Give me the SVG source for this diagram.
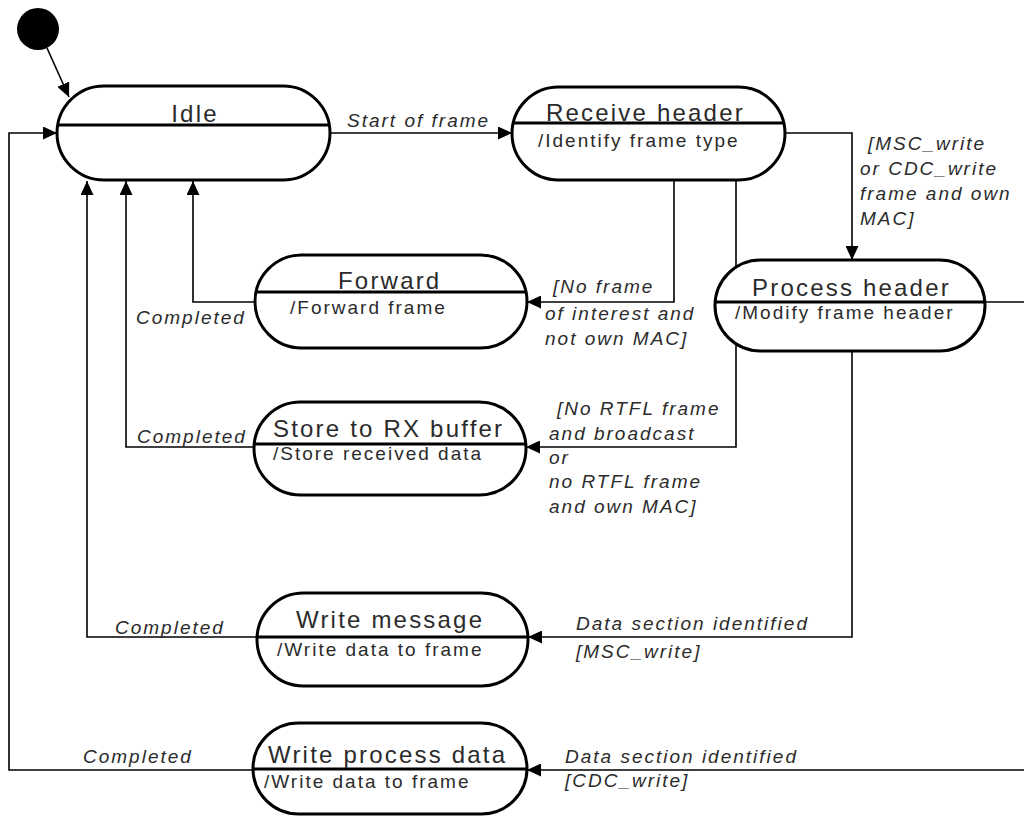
<svg xmlns="http://www.w3.org/2000/svg" width="1024" height="816" viewBox="0 0 1024 816">
  <defs>
    <marker id="arrow" markerWidth="14" markerHeight="13" refX="14" refY="6.5" orient="auto" markerUnits="userSpaceOnUse">
      <path d="M0,0 L14,6.5 L0,13 z" fill="#000"/>
    </marker>
    <style>
      .state { fill: #fff; stroke: #000; stroke-width: 3; }
      .divider { stroke: #000; stroke-width: 3; }
      .conn { fill: none; stroke: #000; stroke-width: 1.6; marker-end: url(#arrow); }
      .title { font-family: "Liberation Sans", Arial, sans-serif; font-size: 24px; letter-spacing: 2.2px; fill: #2b2b2b; }
      .body { font-family: "Liberation Sans", Arial, sans-serif; font-size: 19px; letter-spacing: 2px; fill: #2b2b2b; }
      .lbl { font-family: "Liberation Sans", Arial, sans-serif; font-size: 19px; font-style: italic; letter-spacing: 2px; fill: #2b2b2b; }
    </style>
  </defs>
  <rect width="1024" height="816" fill="#fff"/>

  <!-- transitions -->
  <g id="connectors">
    <path class="conn" d="M47,48 L69,97"/>
    <path class="conn" d="M330,133 L512,133"/>
    <path class="conn" d="M785,133 L852,133 L852,260"/>
    <path class="conn" d="M674,180 L674,302 L527,302"/>
    <path class="conn" d="M736,180 L736,447 L526,447"/>
    <path class="conn" d="M852,351 L852,637 L528,637"/>
    <path class="conn" d="M985,302 L1030,302 L1030,770 L527,770"/>
    <path class="conn" d="M255,302 L193,302 L193,181"/>
    <path class="conn" d="M254,447 L126,447 L126,181"/>
    <path class="conn" d="M257,637 L87,637 L87,181"/>
    <path class="conn" d="M253,770 L9,770 L9,133 L57,133"/>
  </g>

  <!-- transition labels -->
  <g id="labels">
    <text class="lbl" x="347" y="127">Start of frame</text>
    <text class="lbl" x="868" y="150">[MSC_write</text>
    <text class="lbl" x="860" y="175">or CDC_write</text>
    <text class="lbl" x="860" y="200">frame and own</text>
    <text class="lbl" x="860" y="225">MAC]</text>
    <text class="lbl" x="553" y="293">[No frame</text>
    <text class="lbl" x="545" y="320">of interest and</text>
    <text class="lbl" x="545" y="345">not own MAC]</text>
    <text class="lbl" x="557" y="415">[No RTFL frame</text>
    <text class="lbl" x="549" y="440">and broadcast</text>
    <text class="lbl" x="549" y="464">or</text>
    <text class="lbl" x="549" y="488">no RTFL frame</text>
    <text class="lbl" x="549" y="513">and own MAC]</text>
    <text class="lbl" x="576" y="630">Data section identified</text>
    <text class="lbl" x="576" y="658">[MSC_write]</text>
    <text class="lbl" x="565" y="763">Data section identified</text>
    <text class="lbl" x="565" y="787">[CDC_write]</text>
    <text class="lbl" x="136" y="324">Completed</text>
    <text class="lbl" x="137" y="443">Completed</text>
    <text class="lbl" x="115" y="634">Completed</text>
    <text class="lbl" x="83" y="763">Completed</text>
  </g>

  <g id="initial">
    <circle cx="38" cy="29" r="21" fill="#000"/>
  </g>

  <g id="idle">
    <rect class="state" x="57" y="86" width="273" height="94" rx="47"/>
    <line class="divider" x1="58" y1="125" x2="329" y2="125"/>
    <text class="title" x="195" y="122" text-anchor="middle">Idle</text>
  </g>

  <g id="receive-header">
    <rect class="state" x="512" y="87" width="273" height="93" rx="46.5"/>
    <line class="divider" x1="513" y1="123" x2="784" y2="123"/>
    <text class="title" x="546" y="121">Receive header</text>
    <text class="body" x="538" y="147">/Identify frame type</text>
  </g>

  <g id="forward">
    <rect class="state" x="255" y="255" width="272" height="93" rx="46.5"/>
    <line class="divider" x1="256" y1="292" x2="526" y2="292"/>
    <text class="title" x="338" y="289">Forward</text>
    <text class="body" x="290" y="314">/Forward frame</text>
  </g>

  <g id="process-header">
    <rect class="state" x="715" y="260" width="270" height="91" rx="45.5"/>
    <line class="divider" x1="715" y1="302" x2="985" y2="302"/>
    <text class="title" x="752" y="296">Process header</text>
    <text class="body" x="735" y="319">/Modify frame header</text>
  </g>

  <g id="store-rx">
    <rect class="state" x="254" y="402" width="272" height="93" rx="46.5"/>
    <line class="divider" x1="254" y1="444" x2="526" y2="444"/>
    <text class="title" x="273" y="437">Store to RX buffer</text>
    <text class="body" x="273" y="460">/Store received data</text>
  </g>

  <g id="write-message">
    <rect class="state" x="257" y="593" width="271" height="93" rx="46.5"/>
    <line class="divider" x1="257" y1="637" x2="528" y2="637"/>
    <text class="title" x="296" y="628">Write message</text>
    <text class="body" x="277" y="656">/Write data to frame</text>
  </g>

  <g id="write-process-data">
    <rect class="state" x="253" y="723" width="274" height="91" rx="45.5"/>
    <line class="divider" x1="253" y1="769" x2="527" y2="769"/>
    <text class="title" x="268" y="763">Write process data</text>
    <text class="body" x="264" y="788">/Write data to frame</text>
  </g>
</svg>
